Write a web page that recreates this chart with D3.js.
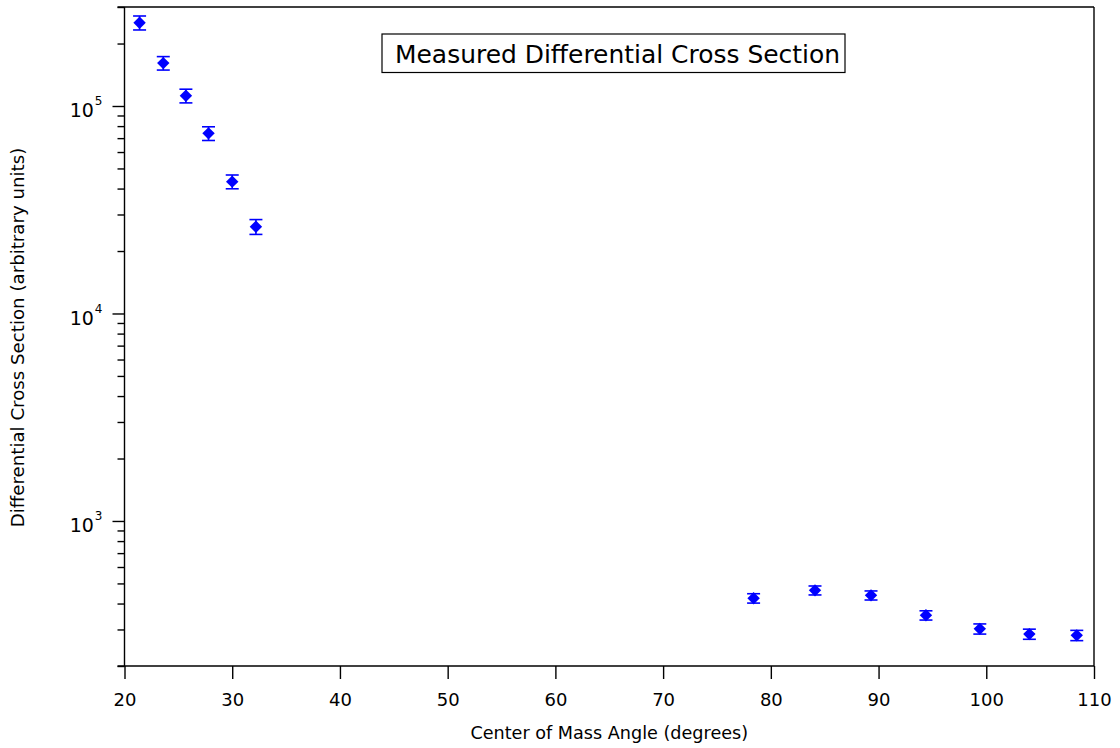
<!DOCTYPE html>
<html>
<head>
<meta charset="utf-8">
<script src="https://cdn.jsdelivr.net/npm/d3@7"></script>
<style>
  html, body { margin: 0; padding: 0; background: #fff; }
  svg { display: block; font-family: "DejaVu Sans", "Liberation Sans", sans-serif; }
</style>
</head>
<body>
<svg id="chart" width="1120" height="748"></svg>
<script>
// Center-of-mass angles (degrees)
const angles = [21.4, 23.6, 25.7, 27.8, 30.0, 32.2, 78.4, 84.1, 89.3, 94.4, 99.4, 104.0, 108.4];
// Differential cross section (arbitrary units)
const crossSection = [252000, 161000, 112000, 73800, 43200, 26200, 424, 463, 438, 351, 302, 285, 281];
// Symmetric uncertainties
const uncertainty = [19500, 12000, 8500, 5600, 3300, 2150, 22, 23, 22, 18, 17, 16, 16];

const xTicks = [20, 30, 40, 50, 60, 70, 80, 90, 100, 110];
const yMajorTicks = [1e3, 1e4, 1e5];
const xDomain = [20, 110];
const yDomain = [200, 300000];

const titleText = "Measured Differential Cross Section";
const xLabel = "Center of Mass Angle (degrees)";
const yLabel = "Differential Cross Section (arbitrary units)";

(function draw() {
  const svg = d3.select("#chart");
  const plotLeft = 124.5, plotRight = 1094, plotTop = 7, plotBottom = 666;

  const x = d3.scaleLinear().domain(xDomain).range([plotLeft, plotRight]);
  const y = d3.scaleLog().domain(yDomain).range([plotBottom, plotTop]);

  const ink = "#000";
  const blue = "#0000ff";

  // Fit a text element's font size so it spans the given width
  function fitWidth(sel, width) {
    const node = sel.node();
    const fs = parseFloat(sel.attr("font-size"));
    const w = node.getComputedTextLength();
    if (w > 0) sel.attr("font-size", (fs * width / w).toFixed(2));
  }

  // Minor log ticks (2..9 per decade) inside the domain
  const yMinorTicks = [];
  for (let e = 2; e <= 5; e++) {
    for (let m = 2; m <= 9; m++) {
      const v = m * Math.pow(10, e);
      if (v >= yDomain[0] && v <= yDomain[1]) yMinorTicks.push(v);
    }
  }

  // Frame
  const frame = svg.append("g").attr("stroke", ink).attr("stroke-width", 1.4).attr("fill", "none");
  frame.append("line").attr("x1", plotLeft - 7).attr("x2", plotRight).attr("y1", plotTop).attr("y2", plotTop);
  frame.append("line").attr("x1", plotLeft - 7).attr("x2", plotRight).attr("y1", plotBottom).attr("y2", plotBottom);
  frame.append("line").attr("x1", plotRight).attr("x2", plotRight).attr("y1", plotTop).attr("y2", plotBottom);

  // X axis
  const xAxis = svg.append("g")
    .attr("transform", `translate(0,${plotBottom})`)
    .call(d3.axisBottom(x).tickValues(xTicks).tickSize(13).tickPadding(14).tickFormat(d3.format("d")));
  xAxis.select(".domain").remove();
  xAxis.attr("font-size", null).attr("font-family", null);
  xAxis.selectAll(".tick line").attr("stroke", ink).attr("stroke-width", 1.4);
  xAxis.selectAll(".tick text").attr("fill", ink).attr("font-size", 18);

  // Y axis: minor ticks
  const yMinor = svg.append("g")
    .attr("transform", `translate(${plotLeft},0)`)
    .call(d3.axisLeft(y).tickValues(yMinorTicks).tickSize(7).tickFormat(""));
  yMinor.select(".domain").attr("stroke", ink).attr("stroke-width", 1.4).attr("d", `M0,${plotTop}V${plotBottom}`);
  yMinor.selectAll(".tick line").attr("stroke", ink).attr("stroke-width", 1.4);

  // Y axis: major ticks with power-of-ten labels
  const yMajor = svg.append("g")
    .attr("transform", `translate(${plotLeft},0)`)
    .call(d3.axisLeft(y).tickValues(yMajorTicks).tickSize(12).tickFormat(""));
  yMajor.select(".domain").remove();
  yMajor.attr("font-size", null).attr("font-family", null);
  yMajor.selectAll(".tick line").attr("stroke", ink).attr("stroke-width", 1.4);
  yMajor.selectAll(".tick").each(function(d) {
    const t = d3.select(this).append("text")
      .attr("x", -22).attr("y", 11)
      .attr("text-anchor", "end").attr("fill", ink)
      .attr("font-size", 19);
    t.append("tspan").text("10");
    t.append("tspan").attr("dx", 1).attr("dy", -12).attr("font-size", 12).text(Math.round(Math.log10(d)));
  });

  // Axis titles
  const xt = svg.append("text")
    .attr("x", (plotLeft + plotRight) / 2).attr("y", 739)
    .attr("text-anchor", "middle").attr("fill", ink).attr("font-size", 16)
    .text(xLabel);
  fitWidth(xt, 278);

  const yt = svg.append("text")
    .attr("transform", `translate(24,${(plotTop + plotBottom) / 2 + 1}) rotate(-90)`)
    .attr("text-anchor", "middle").attr("fill", ink).attr("font-size", 16)
    .text(yLabel);
  fitWidth(yt, 380);

  // Title box
  svg.append("rect")
    .attr("x", 382).attr("y", 34).attr("width", 463).attr("height", 38.5)
    .attr("fill", "#fff").attr("stroke", ink).attr("stroke-width", 1.2);
  const tt = svg.append("text")
    .attr("x", 395).attr("y", 63)
    .attr("fill", ink).attr("font-size", 24)
    .text(titleText);
  fitWidth(tt, 445);

  // Data: error bars and diamond markers
  const data = angles.map((a, i) => ({ a, v: crossSection[i], e: uncertainty[i] }));
  const pts = svg.append("g");
  const capHalf = 6.5;

  const eb = pts.selectAll("g.eb").data(data).join("g").attr("class", "eb")
    .attr("stroke", blue).attr("stroke-width", 1.6).attr("fill", "none");
  eb.append("line")
    .attr("x1", d => x(d.a)).attr("x2", d => x(d.a))
    .attr("y1", d => y(d.v + d.e)).attr("y2", d => y(d.v - d.e));
  eb.append("line")
    .attr("x1", d => x(d.a) - capHalf).attr("x2", d => x(d.a) + capHalf)
    .attr("y1", d => y(d.v + d.e)).attr("y2", d => y(d.v + d.e));
  eb.append("line")
    .attr("x1", d => x(d.a) - capHalf).attr("x2", d => x(d.a) + capHalf)
    .attr("y1", d => y(d.v - d.e)).attr("y2", d => y(d.v - d.e));

  const r = 6.2;
  pts.selectAll("path.mk").data(data).join("path").attr("class", "mk")
    .attr("d", d => {
      const cx = x(d.a), cy = y(d.v);
      return `M${cx},${cy - r}L${cx + r},${cy}L${cx},${cy + r}L${cx - r},${cy}Z`;
    })
    .attr("fill", blue);
})();
</script>
</body>
</html>
